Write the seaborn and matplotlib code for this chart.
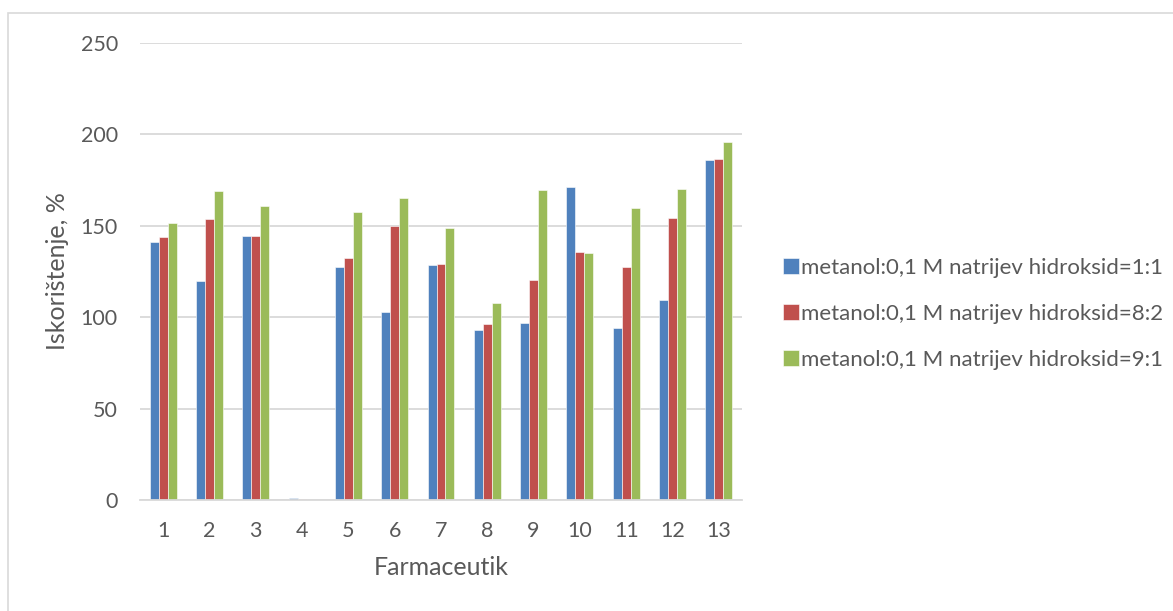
import matplotlib
matplotlib.use("Agg")
import matplotlib.pyplot as plt
import seaborn as sns
import pandas as pd
from matplotlib.patches import Rectangle

categories = ["1", "2", "3", "4", "5", "6", "7", "8", "9", "10", "11", "12", "13"]
series_names = [
    "metanol:0,1 M natrijev hidroksid=1:1",
    "metanol:0,1 M natrijev hidroksid=8:2",
    "metanol:0,1 M natrijev hidroksid=9:1",
]
s1 = [141.2, 119.7, 144.3, 1.3, 127.7, 102.6, 128.5, 93.1, 96.7, 171.4, 94.0, 109.5, 185.8]
s2 = [143.8, 153.5, 144.3, 0.3, 132.3, 150.0, 129.0, 96.5, 120.3, 135.4, 127.7, 154.0, 186.5]
s3 = [151.8, 169.0, 160.9, 0.0, 157.3, 165.0, 148.9, 108.0, 169.5, 135.0, 160.0, 169.9, 196.0]
colors = ["#4F81BD", "#C0504D", "#9BBB59"]

rows = []
for name, vals in zip(series_names, [s1, s2, s3]):
    for c, v in zip(categories, vals):
        rows.append({"Farmaceutik": c, "value": v, "series": name})
df = pd.DataFrame(rows)

sns.set_style("white")
plt.rcParams["font.family"] = ["Lato", "DejaVu Sans"]
text_color = "#595959"

fig = plt.figure(figsize=(11.73, 6.11), dpi=100)
ax = fig.add_axes([140 / 1173, 1 - 500 / 611, 602 / 1173, 457 / 611])

sns.barplot(data=df, x="Farmaceutik", y="value", hue="series", order=categories,
            hue_order=series_names, palette=colors, width=0.58, ax=ax,
            edgecolor="white", linewidth=0.4, errorbar=None, saturation=1)

ax.set_ylim(0, 250)
ax.set_xlim(-0.5, len(categories) - 0.5)
ax.set_yticks([0, 50, 100, 150, 200, 250])
ax.yaxis.grid(True, color="#D9D9D9", linewidth=1.3)
ax.set_axisbelow(True)
for side in ["top", "right", "left"]:
    ax.spines[side].set_visible(False)
ax.spines["bottom"].set_color("#D9D9D9")
ax.spines["bottom"].set_linewidth(1.3)
ax.tick_params(axis="both", length=0, labelsize=15.5, colors=text_color)
ax.tick_params(axis="y", pad=16)
ax.tick_params(axis="x", pad=15)
ax.set_xlabel("Farmaceutik", fontsize=18, color=text_color, labelpad=11)
ax.set_ylabel("Iskorištenje, %", fontsize=18, color=text_color, labelpad=8)

handles, labels = ax.get_legend_handles_labels()
if ax.legend_:
    ax.legend_.remove()
fig.legend(handles, labels, loc="center left", bbox_to_anchor=(783 / 1173, 1 - 314 / 611),
           frameon=False, fontsize=16, labelcolor=text_color, handlelength=0.7,
           handleheight=0.7, handletextpad=0.12, labelspacing=1.17,
           borderpad=0, borderaxespad=0)

fig.patches.append(Rectangle((7.5 / 1173, -0.1), 1.2, 1 - 12.5 / 611 + 0.1,
                             transform=fig.transFigure, fill=False,
                             edgecolor="#D9D9D9", linewidth=1.2))

fig.savefig("out.png", dpi=100)
